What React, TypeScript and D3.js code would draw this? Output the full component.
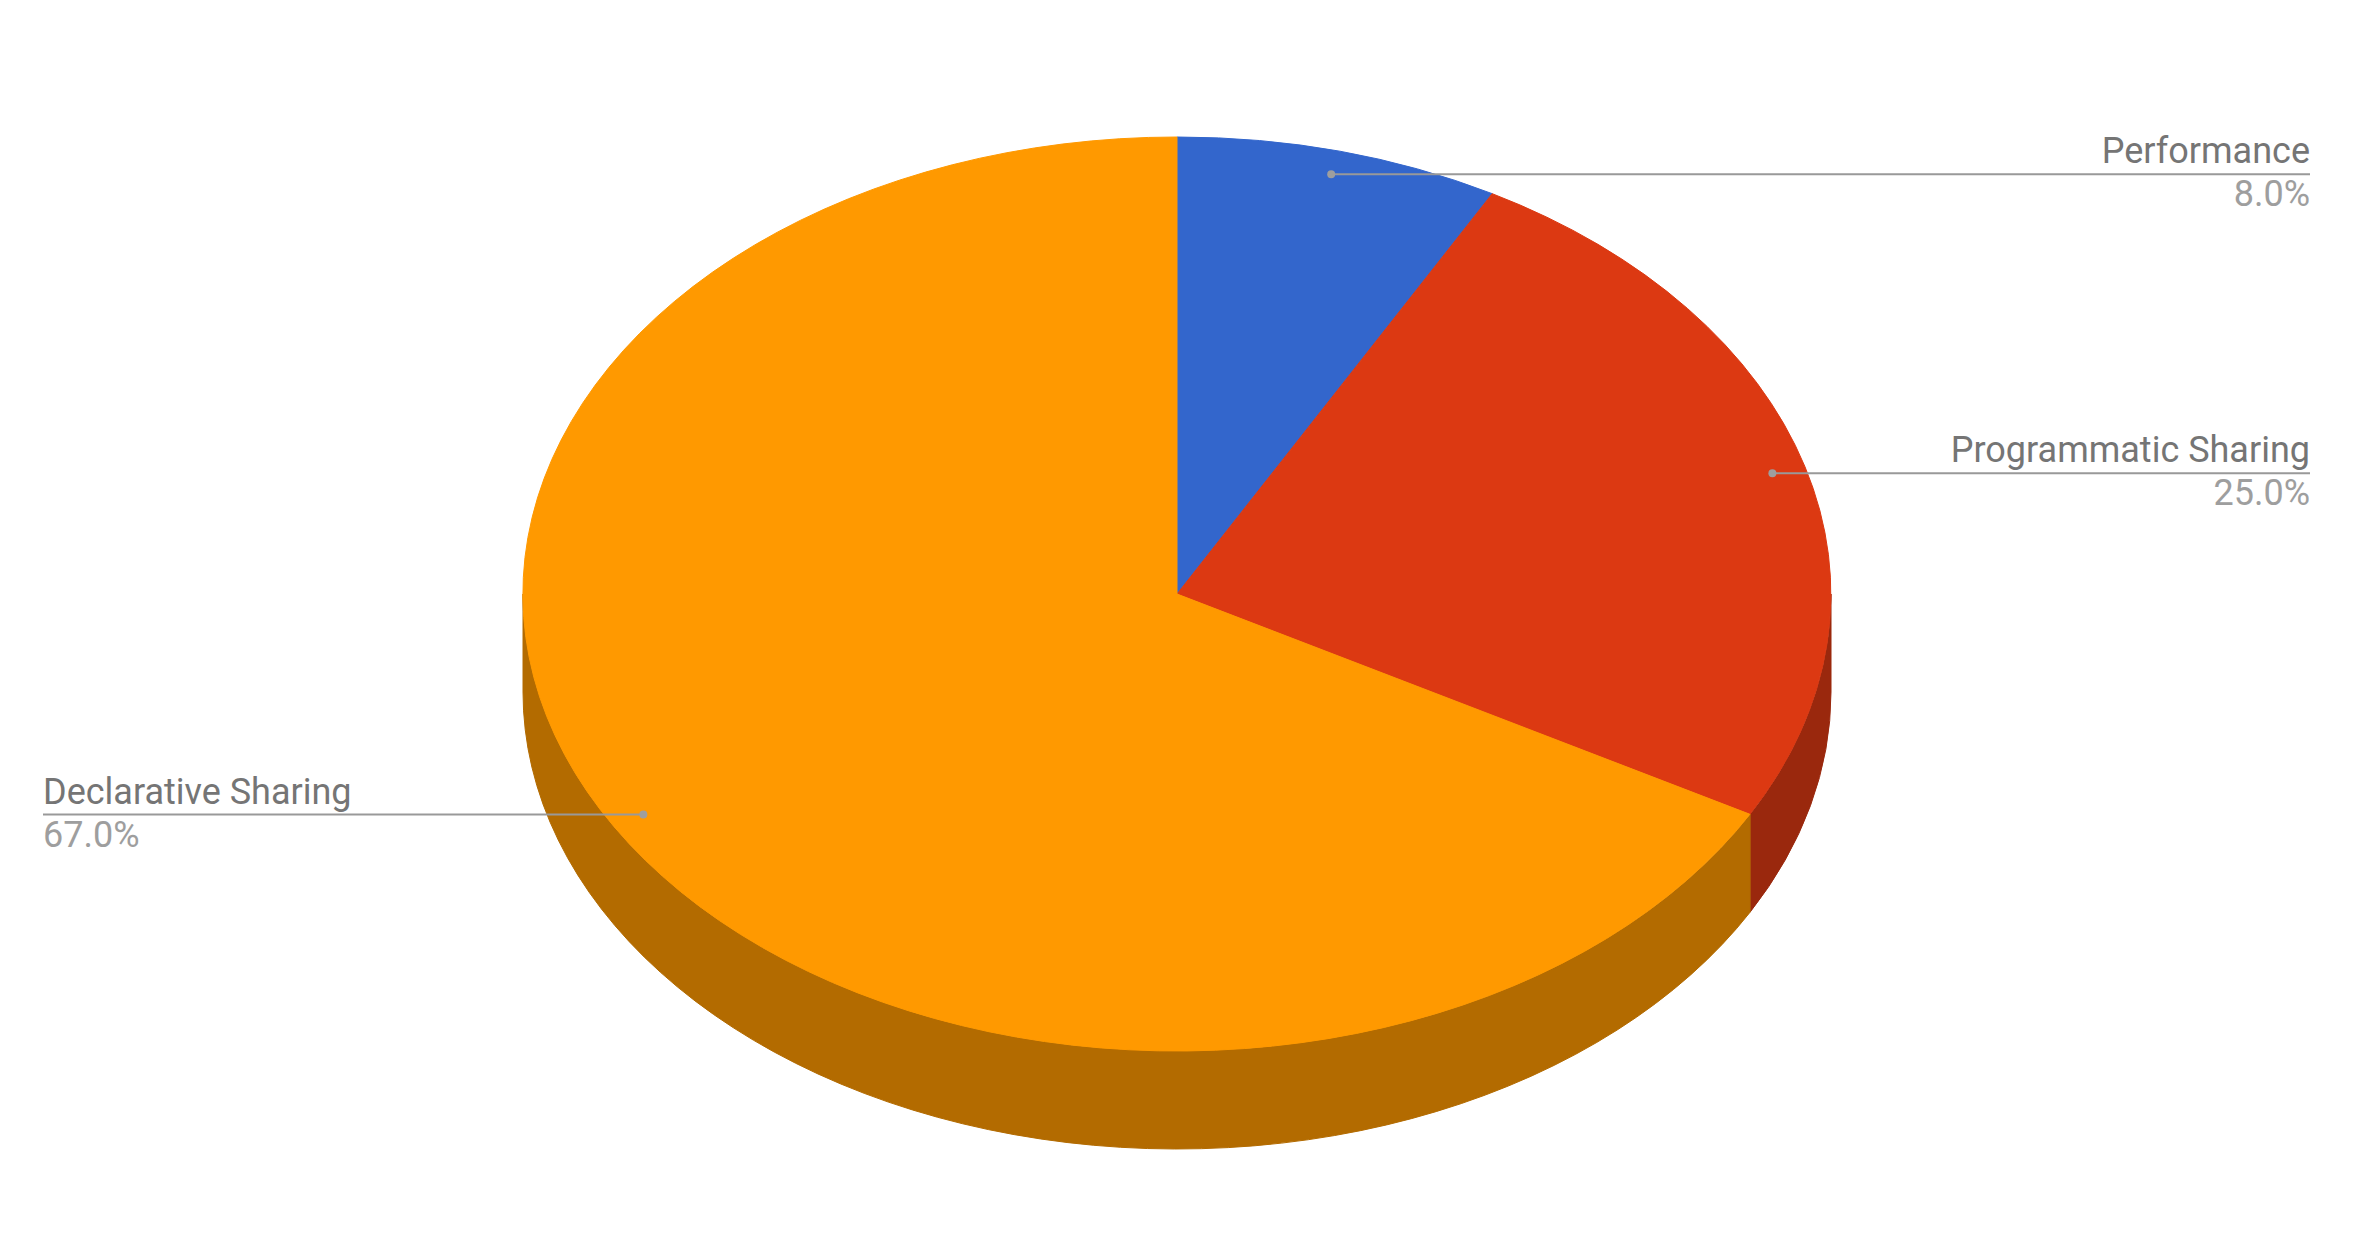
import React from "react";
import * as d3 from "d3";

// Datos del gráfico
const categories = ["Performance", "Programmatic Sharing", "Declarative Sharing"];
const values = [8, 25, 67];
const colors = ["#3366cc", "#dc3912", "#ff9900"];
const labelSide = ["right", "right", "left"];

const width = 2380;
const height = 1254;
const cx = 1177;
const cy = 594;
const rx = 654;
const ry = 457;
const depth = 98;
const dotR = 0.948;
const rightEdge = 2310;
const leftEdge = 43;

const sideColor = (c: string) => {
  const k = d3.rgb(c);
  return d3.rgb(k.r * 0.7, k.g * 0.7, k.b * 0.7).formatHex();
};

export default function App() {
  const total = d3.sum(values);
  const pie = d3
    .pie<number>()
    .sort(null)
    .value((d) => d);
  const arcs = pie(values);

  const arcGen = d3.arc<d3.PieArcDatum<number>>().innerRadius(0).outerRadius(1);

  // Paredes laterales visibles (mitad frontal: de PI/2 a 3PI/2)
  const sides = arcs
    .map((a, i) => {
      const s = Math.max(a.startAngle, Math.PI / 2);
      const e = Math.min(a.endAngle, (3 * Math.PI) / 2);
      if (e <= s) return null;
      const p = d3.path();
      const off = depth / ry;
      p.moveTo(Math.sin(s), -Math.cos(s));
      p.arc(0, 0, 1, s - Math.PI / 2, e - Math.PI / 2);
      p.lineTo(Math.sin(e), -Math.cos(e) + off);
      p.arc(0, off, 1, e - Math.PI / 2, s - Math.PI / 2, true);
      p.closePath();
      return { d: p.toString(), fill: sideColor(colors[i]), key: i };
    })
    .filter((x) => x !== null) as { d: string; fill: string; key: number }[];

  const fmt = d3.format(".1f");

  return (
    <svg
      width={width}
      height={height}
      style={{ position: "absolute", left: 0, top: 0, display: "block" }}
      fontFamily="Roboto, 'Noto Sans', sans-serif"
    >
      <rect width={width} height={height} fill="#ffffff" />
      <g transform={`translate(${cx},${cy}) scale(${rx},${ry})`}>
        {sides.map((s) => (
          <path
            key={`s${s.key}`}
            d={s.d}
            fill={s.fill}
            stroke={s.fill}
            strokeWidth={1}
            vectorEffect="non-scaling-stroke"
          />
        ))}
        {arcs.map((a, i) => (
          <path
            key={`t${i}`}
            d={arcGen(a) ?? ""}
            fill={colors[i]}
            stroke={colors[i]}
            strokeWidth={1}
            vectorEffect="non-scaling-stroke"
          />
        ))}
      </g>
      {/* Etiquetas con líneas */}
      {arcs.map((a, i) => {
        const mid = (a.startAngle + a.endAngle) / 2;
        const x = cx + rx * dotR * Math.sin(mid);
        const y = cy - ry * dotR * Math.cos(mid);
        const right = labelSide[i] === "right";
        const tx = right ? rightEdge : leftEdge;
        return (
          <g key={`l${i}`}>
            <line x1={x} y1={y} x2={tx} y2={y} stroke="#999999" strokeWidth={2} />
            <circle cx={x} cy={y} r={4} fill="#9e9e9e" />
            <text
              x={tx}
              y={y - 11}
              textAnchor={right ? "end" : "start"}
              fontSize={36}
              fill="#757575"
            >
              {categories[i]}
            </text>
            <text
              x={tx}
              y={y + 32}
              textAnchor={right ? "end" : "start"}
              fontSize={36}
              fill="#9e9e9e"
            >
              {fmt((values[i] / total) * 100)}%
            </text>
          </g>
        );
      })}
    </svg>
  );
}
